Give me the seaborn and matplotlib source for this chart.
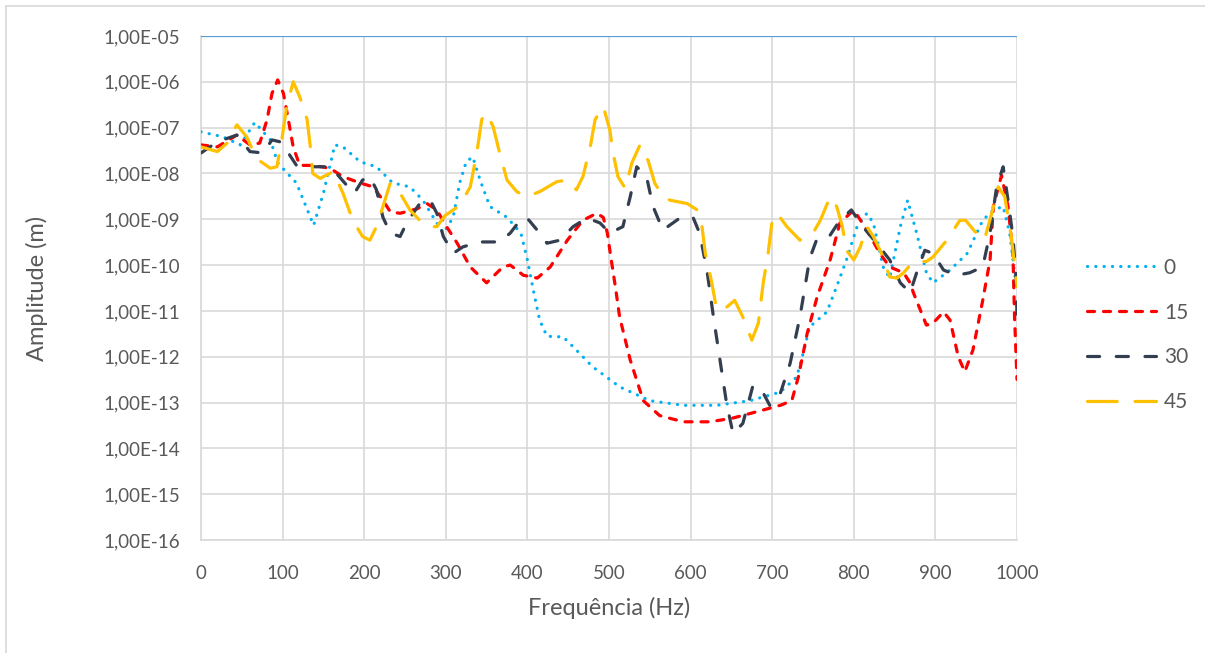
import numpy as np
import pandas as pd
import seaborn as sns
import matplotlib
matplotlib.use("Agg")
import matplotlib.pyplot as plt
from matplotlib.ticker import FixedLocator, FuncFormatter, NullLocator
from matplotlib.lines import Line2D

# ---------------- data ----------------
freq_0 = [0, 27, 48, 66, 85, 94, 117, 138, 150, 164, 174, 195, 215, 235, 256, 272, 289, 297, 309, 317,
          325, 333, 342, 354, 375, 392, 400, 409, 415, 424, 444, 460, 480, 497, 513, 550, 591, 632, 673, 710,
          730, 738, 746, 767, 779, 791, 804, 816, 824, 836, 844, 857, 866, 877, 889, 897, 918, 939, 958, 971,
          983, 991, 997, 1000]
amp_0 = [8.1e-8, 6.3e-8, 4.2e-8, 1.3e-7, 5.4e-8, 1.7e-8, 6.2e-9, 7.4e-10, 3.7e-9, 4.2e-8, 3.8e-8, 1.8e-8,
         1.4e-8, 6.2e-9, 5.1e-9, 2.6e-9, 8.3e-10, 5.0e-10, 1.1e-9, 6.2e-9, 1.8e-8, 2.3e-8, 7.2e-9, 1.9e-9,
         1.1e-9, 5.0e-10, 1.3e-10, 2.0e-11, 6.3e-12, 2.8e-12, 2.7e-12, 1.4e-12, 6.0e-13, 3.6e-13, 2.2e-13,
         1.1e-13, 8.7e-14, 8.7e-14, 1.1e-13, 1.7e-13, 3.6e-13, 1.2e-12, 4.5e-12, 9.5e-12, 3.4e-11, 1.3e-10,
         6.9e-10, 1.35e-9, 8.3e-10, 9.1e-11, 5.2e-11, 6.9e-10, 2.6e-9, 5.0e-10, 6.8e-11, 4.1e-11, 7.8e-11,
         1.8e-10, 9.5e-10, 1.6e-9, 1.9e-9, 5.0e-10, 6.8e-11, 3.2e-11]

freq_15 = [0, 20, 44, 60, 72, 81, 87, 94, 101, 107, 113, 121, 137, 158, 174, 195, 211, 223, 232, 244,
           265, 277, 289, 301, 314, 330, 350, 370, 379, 395, 412, 428, 449, 468, 485, 493, 498, 502, 508, 513,
           526, 542, 562, 591, 624, 652, 681, 710, 724, 732, 743, 755, 771, 783, 800, 816, 832, 844, 861, 869,
           873, 889, 897, 910, 918, 928, 936, 946, 958, 967, 971, 981, 989, 995, 997, 1000]
amp_15 = [4.2e-8, 3.8e-8, 6.9e-8, 4.2e-8, 4.6e-8, 1.5e-7, 5.6e-7, 1.1e-6, 5.6e-7, 1.5e-7, 3.8e-8, 1.5e-8,
          1.5e-8, 1.3e-8, 8.5e-9, 6.2e-9, 5.1e-9, 2.6e-9, 1.45e-9, 1.35e-9, 1.7e-9, 2.2e-9, 1.6e-9, 6.9e-10,
          3.0e-10, 9.1e-11, 4.1e-11, 9.1e-11, 1.0e-10, 6.0e-11, 5.2e-11, 9.1e-11, 3.5e-10, 9.5e-10, 1.35e-9,
          1.1e-9, 5.0e-10, 1.6e-10, 3.2e-11, 7.4e-12, 8.5e-13, 1.1e-13, 5.2e-14, 3.8e-14, 3.8e-14, 4.6e-14,
          6.3e-14, 8.7e-14, 1.1e-13, 3.6e-13, 3.3e-12, 2.0e-11, 1.3e-10, 8.3e-10, 1.6e-9, 5.8e-10, 1.8e-10,
          9.1e-11, 6.8e-11, 4.1e-11, 2.5e-11, 4.9e-12, 5.4e-12, 9.5e-12, 6.3e-12, 1.0e-12, 4.7e-13, 1.4e-12,
          1.7e-11, 1.3e-10, 1.9e-9, 9.1e-9, 1.9e-9, 1.8e-10, 7.4e-12, 3.2e-13]

freq_30 = [0, 20, 44, 60, 76, 87, 97, 107, 117, 134, 158, 166, 182, 188, 198, 207, 215, 223, 232, 244,
           252, 268, 281, 289, 297, 309, 321, 342, 366, 379, 391, 399, 412, 424, 440, 456, 473, 489, 501, 517,
           526, 534, 546, 554, 566, 587, 603, 611, 620, 628, 636, 644, 652, 664, 676, 685, 697, 710, 722, 734,
           746, 755, 771, 783, 797, 811, 828, 844, 857, 869, 877, 887, 897, 910, 926, 942, 958, 967, 975, 983,
           989, 995, 999, 1000]
amp_30 = [2.8e-8, 4.9e-8, 6.9e-8, 3.0e-8, 2.8e-8, 5.4e-8, 4.9e-8, 2.8e-8, 1.5e-8, 1.4e-8, 1.4e-8, 1.0e-8,
          4.7e-9, 3.7e-9, 7.2e-9, 8.5e-9, 4.4e-9, 1.1e-9, 5.0e-10, 4.2e-10, 8.3e-10, 2.2e-9, 2.6e-9, 1.35e-9,
          4.2e-10, 1.8e-10, 2.5e-10, 3.2e-10, 3.2e-10, 5.0e-10, 9.5e-10, 1.1e-9, 5.8e-10, 3.0e-10, 3.5e-10,
          6.9e-10, 1.07e-9, 8.3e-10, 5.0e-10, 6.9e-10, 3.1e-9, 1.4e-8, 8.5e-9, 1.9e-9, 5.8e-10, 1.07e-9,
          1.1e-9, 5.0e-10, 7.8e-11, 7.4e-12, 8.5e-13, 9.8e-14, 2.1e-14, 3.5e-14, 2.2e-13, 2.2e-13, 8.7e-14,
          1.6e-13, 7.2e-13, 7.4e-12, 1.4e-10, 3.8e-10, 4.5e-10, 9.5e-10, 1.6e-9, 6.9e-10, 3.0e-10, 1.3e-10,
          4.1e-11, 2.5e-11, 6.8e-11, 2.1e-10, 1.8e-10, 7.8e-11, 6.0e-11, 6.8e-11, 9.1e-11, 5.0e-10, 5.1e-9,
          1.4e-8, 2.6e-9, 4.2e-10, 4.7e-11, 7.4e-12]

freq_45 = [0, 20, 32, 44, 56, 68, 85, 93, 99, 105, 113, 121, 130, 134, 137, 146, 162, 174, 186, 198,
           207, 215, 223, 232, 244, 256, 268, 277, 289, 299, 317, 330, 338, 344, 350, 358, 366, 375, 387, 399,
           415, 436, 449, 460, 468, 477, 483, 493, 501, 505, 511, 520, 528, 538, 548, 556, 566, 575, 596, 608,
           614, 618, 626, 632, 644, 654, 664, 675, 683, 689, 695, 700, 706, 718, 734, 750, 759, 771, 779, 786,
           791, 800, 808, 816, 824, 834, 844, 853, 861, 873, 889, 897, 914, 930, 937, 950, 960, 969, 977, 985,
           993, 1000]
amp_45 = [3.8e-8, 3.0e-8, 4.6e-8, 1.15e-7, 6.3e-8, 2.1e-8, 1.3e-8, 1.4e-8, 5.4e-8, 2.9e-7, 1.0e-6, 4.7e-7,
          1.5e-7, 3.8e-8, 1.0e-8, 7.8e-9, 1.1e-8, 3.7e-9, 9.5e-10, 4.2e-10, 3.5e-10, 6.9e-10, 1.9e-9, 6.2e-9,
          3.7e-9, 1.6e-9, 9.5e-10, 6.9e-10, 6.9e-10, 1.2e-9, 2.0e-9, 5.1e-9, 2.8e-8, 1.5e-7, 2.1e-7, 1.05e-7,
          2.8e-8, 7.2e-9, 4.0e-9, 3.1e-9, 4.0e-9, 6.6e-9, 7.2e-9, 4.4e-9, 8.5e-9, 3.8e-8, 1.5e-7, 2.9e-7,
          8.9e-8, 2.8e-8, 8.5e-9, 4.7e-9, 1.7e-8, 4.2e-8, 1.9e-8, 6.2e-9, 3.1e-9, 2.6e-9, 2.2e-9, 1.6e-9,
          6.9e-10, 1.8e-10, 4.1e-11, 1.05e-11, 1.2e-11, 1.7e-11, 7.4e-12, 2.3e-12, 5.4e-12, 4.1e-11, 1.8e-10,
          9.5e-10, 1.35e-9, 6.9e-10, 3.5e-10, 5.0e-10, 9.5e-10, 3.1e-9, 1.9e-9, 6.9e-10, 2.1e-10, 1.3e-10,
          2.5e-10, 6.9e-10, 4.2e-10, 1.8e-10, 5.5e-11, 5.2e-11, 6.8e-11, 1.2e-10, 1.2e-10, 1.5e-10, 3.5e-10,
          9.5e-10, 9.5e-10, 5.0e-10, 3.5e-10, 1.35e-9, 5.1e-9, 3.1e-9, 4.2e-10, 3.4e-11]

series_labels = ["0", "15", "30", "45"]
y_tick_values = [1e-16, 1e-15, 1e-14, 1e-13, 1e-12, 1e-11, 1e-10, 1e-9, 1e-8, 1e-7, 1e-6, 1e-5]
x_tick_values = [0, 100, 200, 300, 400, 500, 600, 700, 800, 900, 1000]
top_line_value = 1e-5

# ---------------- style ----------------
sns.set_theme(style="white")
plt.rcParams["font.family"] = ["Lato", "DejaVu Sans"]
text_color = "#595959"
grid_color = "#D9D9D9"

styles = {
    "0":  dict(color="#00B0F0", dashes=(0.05, 2.55), cap="round"),
    "15": dict(color="#FF0000", dashes=(2.2, 2.8), cap="round"),
    "30": dict(color="#333F50", dashes=(3.8, 5.2), cap="round"),
    "45": dict(color="#FFC000", dashes=(9.3, 5.6), cap="round"),
}

fig = plt.figure(figsize=(12.05, 6.53), dpi=100)
ax = fig.add_axes([201 / 1205, 1 - 540 / 653, (1017 - 201) / 1205, (540 - 36) / 653])

data_sets = [(freq_0, amp_0), (freq_15, amp_15), (freq_30, amp_30), (freq_45, amp_45)]
lw = 2.3
handles = []
for lab, (fx, fy) in zip(series_labels, data_sets):
    st = styles[lab]
    df = pd.DataFrame({"f": fx, "a": fy})
    sns.lineplot(data=df, x="f", y="a", ax=ax, color=st["color"], linewidth=lw,
                 estimator=None, sort=False, legend=False)
    line = ax.lines[-1]
    line.set_dashes(st["dashes"])
    line.set_dash_capstyle(st["cap"])
    line.set_solid_capstyle("round")
    line.set_zorder(3)
    h = Line2D([0], [0], color=st["color"], linewidth=lw)
    h.set_dashes(st["dashes"])
    h.set_dash_capstyle(st["cap"])
    handles.append(h)

ax.axhline(top_line_value, color="#5B9BD5", linewidth=1.6, zorder=4)

ax.set_yscale("log")
ax.set_ylim(1e-16, 1e-5)
ax.set_xlim(0, 1000)
ax.yaxis.set_major_locator(FixedLocator(y_tick_values))
ax.yaxis.set_minor_locator(NullLocator())
ax.xaxis.set_major_locator(FixedLocator(x_tick_values))


def fmt_sci(v, pos):
    s = f"{v:.2E}"
    return s.replace(".", ",")


ax.yaxis.set_major_formatter(FuncFormatter(fmt_sci))
ax.grid(True, which="major", color=grid_color, linewidth=1.2)
ax.set_axisbelow(True)
for side in ["top", "right"]:
    ax.spines[side].set_visible(False)
ax.spines["left"].set_color(grid_color)
ax.spines["bottom"].set_color(grid_color)
ax.spines["left"].set_linewidth(1.2)
ax.spines["bottom"].set_linewidth(1.2)
ax.tick_params(axis="both", length=0, labelsize=13.5, colors=text_color)
ax.tick_params(axis="y", pad=15)
ax.tick_params(axis="x", pad=18)

ax.set_xlabel("Frequência (Hz)", fontsize=17, color=text_color, labelpad=11)
ax.set_ylabel("Amplitude (m)", fontsize=17, color=text_color, labelpad=40)

leg = fig.legend(handles, series_labels, loc="upper left", bbox_to_anchor=(1068 / 1205, 1 - 239 / 653),
                 frameon=False, handlelength=3.3, handletextpad=0.4, labelspacing=1.19,
                 prop={"size": 15})
for t in leg.get_texts():
    t.set_color(text_color)

# outer chart border (left and top visible)
fig.add_artist(Line2D([6 / 1205, 6 / 1205], [0, 1 - 6 / 653], color=grid_color, linewidth=1.2,
                      transform=fig.transFigure))
fig.add_artist(Line2D([6 / 1205, 1], [1 - 6 / 653, 1 - 6 / 653], color=grid_color, linewidth=1.2,
                      transform=fig.transFigure))

fig.savefig("out.png", dpi=100, facecolor="white")
